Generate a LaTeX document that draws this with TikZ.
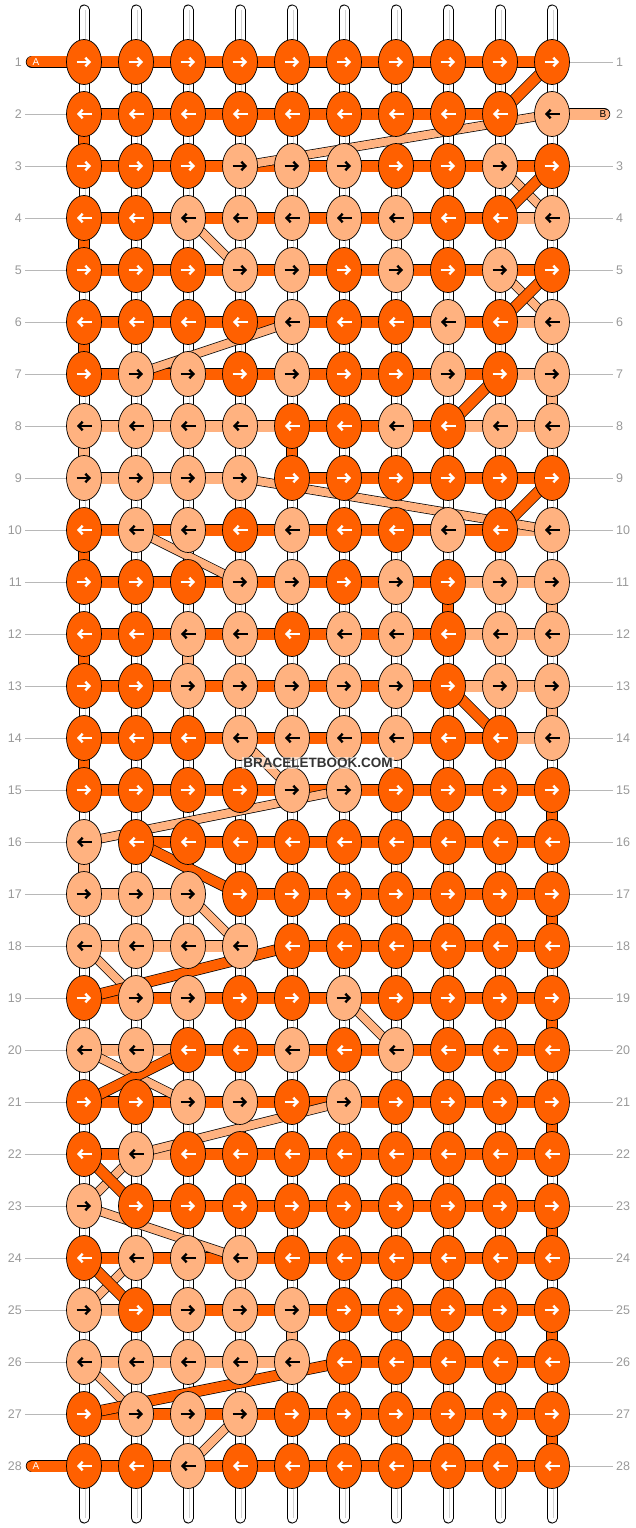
\documentclass[tikz,border=0pt]{standalone}
\usepackage{fontspec}
\newfontfamily\lblfont{Liberation Sans}
\usetikzlibrary{shapes.geometric}
\usetikzlibrary{arrows.meta}
\pgfdeclarelayer{warps}
\pgfdeclarelayer{strings}
\pgfsetlayers{warps,strings,main}
\definecolor{strA}{RGB}{255,96,0}
\definecolor{strB}{RGB}{255,178,128}
\colorlet{arrA}{white}
\colorlet{arrB}{black}
\definecolor{lblgray}{RGB}{153,153,153}
\tikzset{knot/.style = {draw, ellipse, line width = 0.7, minimum width = 35, minimum height = 45, inner sep = 0}}
\tikzset{knot arrow/.style = {line width = 2.4, -{Straight Barb[length = 4pt, width = 8.5pt]}}}
\tikzset{flat/.style = {draw = black, line width = 0.7, double distance = 11}}
\tikzset{warp/.style = {draw = black, line width = 1, double = white, double distance = 9, line cap = round}}
\tikzset{rowlbl/.style = {font = \lblfont\fontsize{12.5}{14}\selectfont, text = lblgray, inner sep = 3}}
\tikzset{guide/.style = {draw = lblgray!70, line width = 0.8}}
\tikzset{taillbl/.style = {font = \lblfont\fontsize{10}{11}\selectfont, inner sep = 0}}

\begin{document}
\begin{tikzpicture}[x = 1pt, y = -1pt]
    \useasboundingbox (0, 0) rectangle (636, 1528);

    % knot colours per row, then the colour of the string between neighbours
    \def\knotrows{
      1/{A,A,A,A,A,A,A,A,A,A}/{A,A,A,A,A,A,A,A,A},
      2/{A,A,A,A,A,A,A,A,A,B}/{A,A,A,A,A,A,A,A,N},
      3/{A,A,A,B,B,B,A,A,B,A}/{A,A,A,A,A,A,A,A,A},
      4/{A,A,B,B,B,B,B,A,A,B}/{A,A,A,A,A,A,A,A,B},
      5/{A,A,A,B,B,A,B,A,B,A}/{A,A,A,A,A,A,A,A,A},
      6/{A,A,A,A,B,A,A,B,A,B}/{A,A,A,A,A,A,A,A,B},
      7/{A,B,B,A,B,A,A,B,A,B}/{A,A,A,A,A,A,A,A,B},
      8/{B,B,B,B,A,A,B,A,B,B}/{B,B,B,B,A,A,A,B,B},
      9/{B,B,B,B,A,A,A,A,A,A}/{B,B,B,N,A,A,A,A,A},
      10/{A,B,B,A,B,A,A,B,A,B}/{A,A,A,A,A,A,A,A,B},
      11/{A,A,A,B,B,A,B,A,B,B}/{A,A,A,A,A,A,A,B,B},
      12/{A,A,B,B,A,B,B,A,B,B}/{A,A,A,A,A,A,A,B,B},
      13/{A,A,B,B,B,B,B,A,B,B}/{A,A,A,A,A,A,A,B,B},
      14/{A,A,A,B,B,B,B,A,A,B}/{A,A,A,A,A,A,A,A,B},
      15/{A,A,A,A,B,B,A,A,A,A}/{A,A,A,A,A,A,A,A,A},
      16/{B,A,A,A,A,A,A,A,A,A}/{N,A,A,A,A,A,A,A,A},
      17/{B,B,B,A,A,A,A,A,A,A}/{B,B,N,A,A,A,A,A,A},
      18/{B,B,B,B,A,A,A,A,A,A}/{B,B,B,N,A,A,A,A,A},
      19/{A,B,B,A,A,B,A,A,A,A}/{A,A,A,A,A,A,A,A,A},
      20/{B,B,A,A,B,A,B,A,A,A}/{B,B,A,A,A,A,A,A,A},
      21/{A,A,B,B,A,B,A,A,A,A}/{A,A,A,A,A,A,A,A,A},
      22/{A,B,A,A,A,A,A,A,A,A}/{A,B,A,A,A,A,A,A,A},
      23/{B,A,A,A,A,A,A,A,A,A}/{N,A,A,A,A,A,A,A,A},
      24/{A,B,B,B,A,A,A,A,A,A}/{A,A,A,A,A,A,A,A,A},
      25/{B,A,B,B,B,A,A,A,A,A}/{B,A,A,A,A,A,A,A,A},
      26/{B,B,B,B,B,A,A,A,A,A}/{B,B,B,B,N,A,A,A,A},
      27/{A,B,B,B,A,A,A,A,A,A}/{A,A,A,A,A,A,A,A,A},
      28/{A,A,B,A,A,A,A,A,A,A}/{A,A,A,A,A,A,A,A,A}}

    \foreach \row/\kns/\segs in \knotrows {
      \foreach \kn [count = \cl] in \kns {
        \node [knot, fill = str\kn] (k-\row-\cl) at ({84 + 52*(\cl - 1)}, {62 + 52*(\row - 1)}) {};
        \ifodd\row
          \draw [knot arrow, draw = arr\kn] ([xshift = -7.5]k-\row-\cl.center) -- ([xshift = 7]k-\row-\cl.center);
        \else
          \draw [knot arrow, draw = arr\kn] ([xshift = 7.5]k-\row-\cl.center) -- ([xshift = -7]k-\row-\cl.center);
        \fi
      }
      \begin{pgfonlayer}{strings}
        \foreach \sg [count = \cl] in \segs {
          \pgfmathtruncatemacro\cn{\cl + 1}
          \if\sg N\else
            \draw [flat, double = str\sg] (k-\row-\cl.center) -- (k-\row-\cn.center);
          \fi
        }
      \end{pgfonlayer}
    }

    \begin{pgfonlayer}{strings}
      % turns from one row to the next
      \foreach \cl/\row/\sg in {1/2/A, 1/4/A, 1/6/A, 1/8/B, 1/10/A, 1/12/A, 1/14/A, 1/16/B,
                                10/7/B, 10/11/B, 10/13/B, 10/15/A, 10/17/A, 10/19/A, 10/21/A,
                                10/23/A, 10/25/A, 10/27/A, 8/11/A, 5/8/A, 3/12/B, 5/25/B} {
        \pgfmathtruncatemacro\rn{\row + 1}
        \draw [flat, double = str\sg, double distance = 10] (k-\row-\cl.center) -- (k-\rn-\cl.center);
      }
      % jumps of the light string
      \foreach \ra/\ca/\rb/\cb in {2/10/3/4, 3/9/4/10, 4/3/5/4, 5/9/6/10, 6/5/7/2, 9/4/10/10,
                                   10/2/11/4, 14/4/15/5, 15/6/16/1, 17/3/18/4, 18/1/19/2,
                                   19/6/20/7, 20/1/21/3, 21/6/22/2, 22/2/23/1, 23/1/24/4,
                                   24/2/25/1, 26/1/27/2, 27/4/28/3}
        \draw [flat, double = strB, double distance = 8] (k-\ra-\ca.center) -- (k-\rb-\cb.center);
      % jumps of the dark string
      \foreach \ra/\ca/\rb/\cb in {1/10/2/9, 3/10/4/9, 5/10/6/9, 7/9/8/8, 9/10/10/9, 13/8/14/9,
                                   16/2/17/4, 18/5/19/1, 20/3/21/1, 22/1/23/2, 24/1/25/2, 26/6/27/1}
        \draw [flat, double = strA, double distance = 10] (k-\ra-\ca.center) -- (k-\rb-\cb.center);

      % loose ends
      \coordinate (tail-A1) at (32, 62);
      \coordinate (tail-A2) at (32, 1466);
      \coordinate (tail-B) at (604, 114);
      \draw [flat, double = strA, line cap = round] (tail-A1) -- (k-1-1.center);
      \draw [flat, double = strA, line cap = round] (tail-A2) -- (k-28-1.center);
      \draw [flat, double = strB, line cap = round] (k-2-10.center) -- (tail-B);
    \end{pgfonlayer}
    \node [taillbl, text = white] at ([xshift = 4]tail-A1) {A};
    \node [taillbl, text = white] at ([xshift = 4]tail-A2) {A};
    \node [taillbl, text = black] at ([xshift = -1]tail-B) {B};

    \begin{pgfonlayer}{warps}
      \foreach \cl in {1, ..., 10} {
        \coordinate (wt-\cl) at ({84 + 52*(\cl - 1)}, 10);
        \coordinate (wb-\cl) at ({84 + 52*(\cl - 1)}, 1518);
        \draw [warp] (wt-\cl) -- (wb-\cl);
        \draw [lblgray!45, line width = 0.5] ([xshift = 1.5]wt-\cl) -- ([xshift = 1.5]wb-\cl);
      }
    \end{pgfonlayer}

    % row numbers
    \foreach \row in {1, ..., 28} {
      \node [rowlbl, anchor = east] (lbl-l-\row) at (25, {62 + 52*(\row - 1)}) {\row};
      \node [rowlbl, anchor = west] (lbl-r-\row) at (613, {62 + 52*(\row - 1)}) {\row};
      \ifnum\row>1 \ifnum\row<28
        \draw [guide] (lbl-l-\row) -- (k-\row-1);
      \fi\fi
      \ifnum\row=2 \else
        \draw [guide] (k-\row-10) -- (lbl-r-\row);
      \fi
    }

    \node [font = \lblfont\bfseries\fontsize{13.5}{15}\selectfont, text = black!80, fill = white,
           fill opacity = 0.55, text opacity = 1, inner sep = 1] (mark) at (318, 763) {BRACELETBOOK.COM};
\end{tikzpicture}
\end{document}
